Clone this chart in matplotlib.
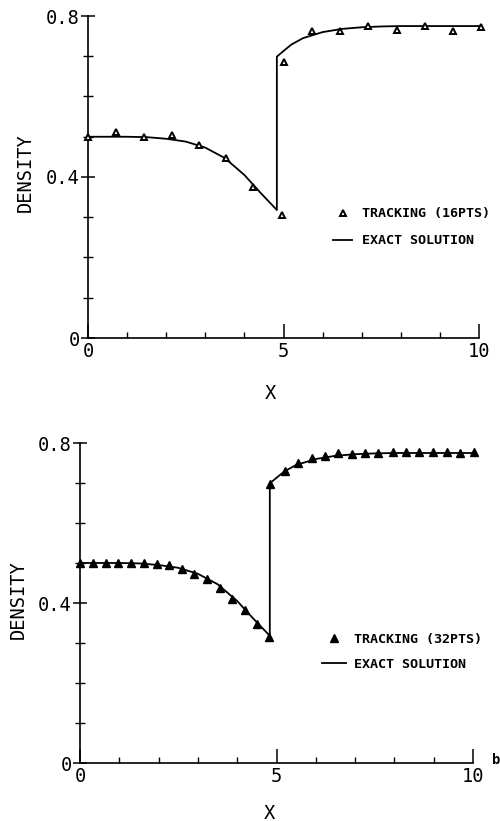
import matplotlib
matplotlib.use("Agg")
import matplotlib.pyplot as plt
from matplotlib.ticker import FixedLocator, MultipleLocator

# ---- data ----
exact_x = [0.0, 0.5, 1.0, 1.5, 2.0, 2.5, 3.0, 3.5, 4.0, 4.4, 4.83,
           4.83, 5.0, 5.2, 5.5, 6.0, 6.5, 7.0, 7.5, 8.0, 9.0, 10.0]
exact_y = [0.500, 0.500, 0.500, 0.499, 0.495, 0.488, 0.473, 0.447, 0.405, 0.362, 0.318,
           0.699, 0.713, 0.729, 0.745, 0.760, 0.768, 0.772, 0.774, 0.775, 0.775, 0.775]

track16_x = [0.0, 0.72, 1.43, 2.14, 2.84, 3.54, 4.23, 4.95,
             5.01, 5.72, 6.45, 7.17, 7.90, 8.62, 9.34, 10.06]
track16_y = [0.500, 0.511, 0.499, 0.504, 0.480, 0.448, 0.376, 0.306,
             0.686, 0.763, 0.763, 0.775, 0.765, 0.775, 0.763, 0.773]

track32_x = [0.0, 0.34, 0.66, 0.97, 1.30, 1.63, 1.95, 2.27, 2.59, 2.90, 3.23, 3.56,
             3.88, 4.20, 4.51, 4.82,
             4.83, 5.22, 5.55, 5.90, 6.23, 6.56, 6.92, 7.25, 7.58, 7.96, 8.30, 8.63,
             8.98, 9.34, 9.67, 10.03]
track32_y = [0.500, 0.501, 0.501, 0.501, 0.500, 0.499, 0.497, 0.494, 0.485, 0.473, 0.459, 0.437,
             0.410, 0.383, 0.348, 0.316,
             0.698, 0.731, 0.749, 0.762, 0.767, 0.774, 0.773, 0.776, 0.776, 0.778, 0.777, 0.777,
             0.778, 0.777, 0.776, 0.777]

x_ticks = [0, 5, 10]
x_ticklabels = ["0", "5", "10"]
y_ticks = [0.0, 0.4, 0.8]
y_ticklabels = ["0", "0.4", "0.8"]

W, H = 500, 821
fig = plt.figure(figsize=(W / 100, H / 100), dpi=100)
mono = "DejaVu Sans Mono"


def px_axes(left, top, right, bottom):
    return fig.add_axes([left / W, 1 - bottom / H, (right - left) / W, (bottom - top) / H])


def style(ax):
    ax.set_xlim(0, 10)
    ax.set_ylim(0, 0.8)
    for s in ("top", "right"):
        ax.spines[s].set_visible(False)
    for s in ("left", "bottom"):
        ax.spines[s].set_linewidth(1.2)
    ax.xaxis.set_major_locator(FixedLocator(x_ticks))
    ax.xaxis.set_minor_locator(MultipleLocator(1))
    ax.yaxis.set_major_locator(FixedLocator(y_ticks))
    ax.yaxis.set_minor_locator(MultipleLocator(0.1))
    ax.set_xticklabels(x_ticklabels, fontfamily=mono, fontsize=13.5)
    ax.set_yticklabels(y_ticklabels, fontfamily=mono, fontsize=13.5)
    ax.tick_params(axis="x", which="major", direction="in", length=10, width=1.1, pad=3)
    ax.tick_params(axis="x", which="minor", direction="in", length=4, width=1.0)
    ax.tick_params(axis="y", which="major", direction="inout", length=10, width=1.1, pad=1)
    ax.tick_params(axis="y", which="minor", direction="inout", length=7, width=1.0)


legend_props = {"family": mono, "size": 9.6, "weight": "bold"}

# ---- top panel ----
ax1 = px_axes(88, 16, 479, 338)
style(ax1)
l1, = ax1.plot(exact_x, exact_y, color="black", lw=1.3, label="EXACT SOLUTION", clip_on=False)
m1, = ax1.plot(track16_x, track16_y, ls="none", marker="^", ms=5, mfc="white", mec="black",
               mew=1.4, label="TRACKING (16PTS)", clip_on=False, zorder=3)
fig.legend([m1, l1], ["TRACKING (16PTS)", "EXACT SOLUTION"], loc="center left",
           bbox_to_anchor=(333 / W, 1 - 227.5 / H), frameon=False, borderpad=0,
           borderaxespad=0, handlelength=1.45, handletextpad=0.75, labelspacing=1.05,
           prop=legend_props)
fig.text(270 / W, 1 - 393 / H, "X", ha="center", va="center", fontfamily=mono, fontsize=13.5)
fig.text(25 / W, 1 - 173 / H, "DENSITY", ha="center", va="center", rotation=90,
         fontfamily=mono, fontsize=13.5)

# ---- bottom panel ----
ax2 = px_axes(80, 443, 473, 763)
style(ax2)
l2, = ax2.plot(exact_x, exact_y, color="black", lw=1.3, label="EXACT SOLUTION", clip_on=False)
m2, = ax2.plot(track32_x, track32_y, ls="none", marker="^", ms=5.5, mfc="black", mec="black",
               mew=1.0, label="TRACKING (32PTS)", clip_on=False, zorder=3)
fig.legend([m2, l2], ["TRACKING (32PTS)", "EXACT SOLUTION"], loc="center left",
           bbox_to_anchor=(322 / W, 1 - 652 / H), frameon=False, borderpad=0,
           borderaxespad=0, handlelength=1.8, handletextpad=0.6, labelspacing=0.9,
           prop=legend_props)
fig.text(269 / W, 1 - 813 / H, "X", ha="center", va="center", fontfamily=mono, fontsize=13.5)
fig.text(18 / W, 1 - 600 / H, "DENSITY", ha="center", va="center", rotation=90,
         fontfamily=mono, fontsize=13.5)
fig.text(492 / W, 1 - 760 / H, "b", ha="left", va="center", fontfamily=mono, fontsize=10,
         fontweight="bold")

fig.savefig("out.png", dpi=100)
